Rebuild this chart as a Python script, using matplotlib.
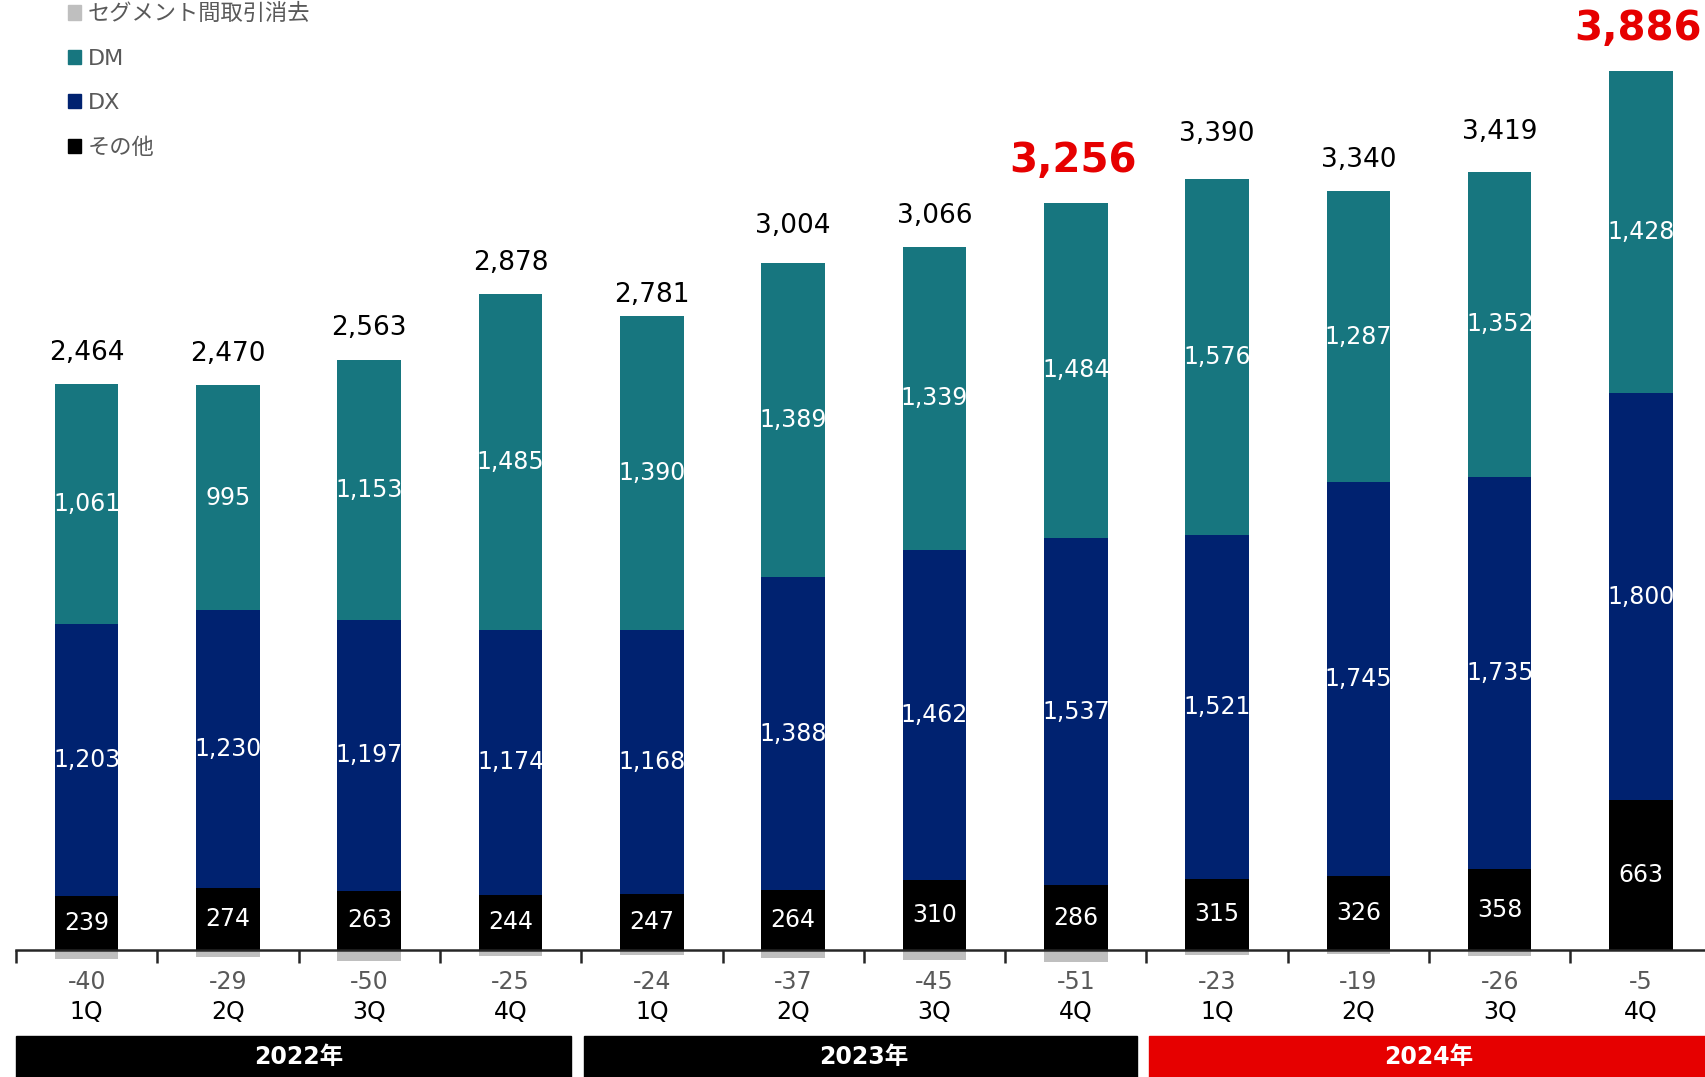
import matplotlib
matplotlib.use("Agg")
import matplotlib.pyplot as plt
from matplotlib.patches import Patch

plt.rcParams["font.family"] = ["DejaVu Sans", "Noto Sans CJK JP"]

# 四半期別 セグメント売上
quarters = ["1Q", "2Q", "3Q", "4Q"] * 3
years = ["2022年", "2023年", "2024年"]
other = [239, 274, 263, 244, 247, 264, 310, 286, 315, 326, 358, 663]
dx = [1203, 1230, 1197, 1174, 1168, 1388, 1462, 1537, 1521, 1745, 1735, 1800]
dm = [1061, 995, 1153, 1485, 1390, 1389, 1339, 1484, 1576, 1287, 1352, 1428]
elim = [-40, -29, -50, -25, -24, -37, -45, -51, -23, -19, -26, -5]
totals = [2464, 2470, 2563, 2878, 2781, 3004, 3066, 3256, 3390, 3340, 3419, 3886]
highlight = {7, 11}

# 合計ラベルの個別の上下調整 (pt)
label_nudge = {4: -7.6, 5: 4.2, 8: 9.6, 10: 5.9}

C_OTHER = "#000000"
C_DX = "#002270"
C_DM = "#17767F"
C_ELIM = "#BFBFBF"
C_RED = "#E60000"
C_GRAY = "#595959"

fig = plt.figure(figsize=(17.06, 10.77), dpi=100)
ax = fig.add_axes([16 / 1706, 0, 1 - 16 / 1706, 1])

x = list(range(len(quarters)))
w = 0.45
bottom_dm = [o + d for o, d in zip(other, dx)]

ax.bar(x, elim, w, color=C_ELIM, zorder=1)
ax.bar(x, other, w, color=C_OTHER, zorder=2)
ax.bar(x, dx, w, bottom=other, color=C_DX, zorder=2)
ax.bar(x, dm, w, bottom=bottom_dm, color=C_DM, zorder=2)

ax.set_xlim(-0.5, 11.46)
ax.set_ylim(-562, 4204)

# 軸線と区切りの目盛
for s in ["top", "right", "left"]:
    ax.spines[s].set_visible(False)
ax.spines["bottom"].set_position(("data", 0))
ax.spines["bottom"].set_color("#262626")
ax.spines["bottom"].set_linewidth(1.8)
ax.spines["bottom"].set_zorder(3)
ax.set_xticks([i - 0.5 for i in range(12)])
ax.set_xticklabels([])
ax.tick_params(axis="x", direction="out", length=9, width=1.8, color="#262626")
ax.set_yticks([])

# セグメント内の値
for i in x:
    ax.text(i, other[i] / 2, f"{other[i]:,}", ha="center", va="center",
            color="white", fontsize=17, zorder=4)
    ax.text(i, other[i] + dx[i] / 2, f"{dx[i]:,}", ha="center", va="center",
            color="white", fontsize=17, zorder=4)
    ax.text(i, bottom_dm[i] + dm[i] / 2, f"{dm[i]:,}", ha="center", va="center",
            color="white", fontsize=17, zorder=4)

    top = bottom_dm[i] + dm[i]
    if i in highlight:
        ax.annotate(f"{totals[i]:,}", (i, top), xytext=(-2, 30), textcoords="offset points",
                    ha="center", va="center", color=C_RED, fontsize=29,
                    fontweight="bold")
    else:
        ax.annotate(f"{totals[i]:,}", (i, top),
                    xytext=(0, 22.5 + label_nudge.get(i, 0)), textcoords="offset points",
                    ha="center", va="center", color="black", fontsize=19)

    # 消去額と四半期
    ax.text(i, -143, f"{elim[i]}", ha="center", va="center", color=C_GRAY, fontsize=17)
    ax.text(i, -274, quarters[i], ha="center", va="center", color="black", fontsize=17)

# 年の帯
band_colors = ["black", "black", C_RED]
for k, (yr, bc) in enumerate(zip(years, band_colors)):
    s = k * 4
    left = s - 0.5 + (0.0 if k == 0 else 0.02)
    right = s + 3.5 - 0.07 if k < 2 else 11.6
    ax.add_patch(plt.Rectangle((left, -562), right - left, 181, color=bc,
                               clip_on=False, zorder=5))
    ax.text(s + 1.5, -475, yr, ha="center", va="center", color="white",
            fontsize=17, fontweight="bold", zorder=6)

handles = [
    Patch(color=C_ELIM, label="セグメント間取引消去"),
    Patch(color=C_DM, label="DM"),
    Patch(color=C_DX, label="DX"),
    Patch(color=C_OTHER, label="その他"),
]
leg = fig.legend(handles=handles, loc="upper left", bbox_to_anchor=(68 / 1706, 0.997),
                 frameon=False, fontsize=16, handlelength=0.6, handleheight=0.6,
                 handletextpad=0.3, labelspacing=1.1, borderpad=0, borderaxespad=0)
for t in leg.get_texts():
    t.set_color(C_GRAY)

fig.savefig("out.png", dpi=100)
